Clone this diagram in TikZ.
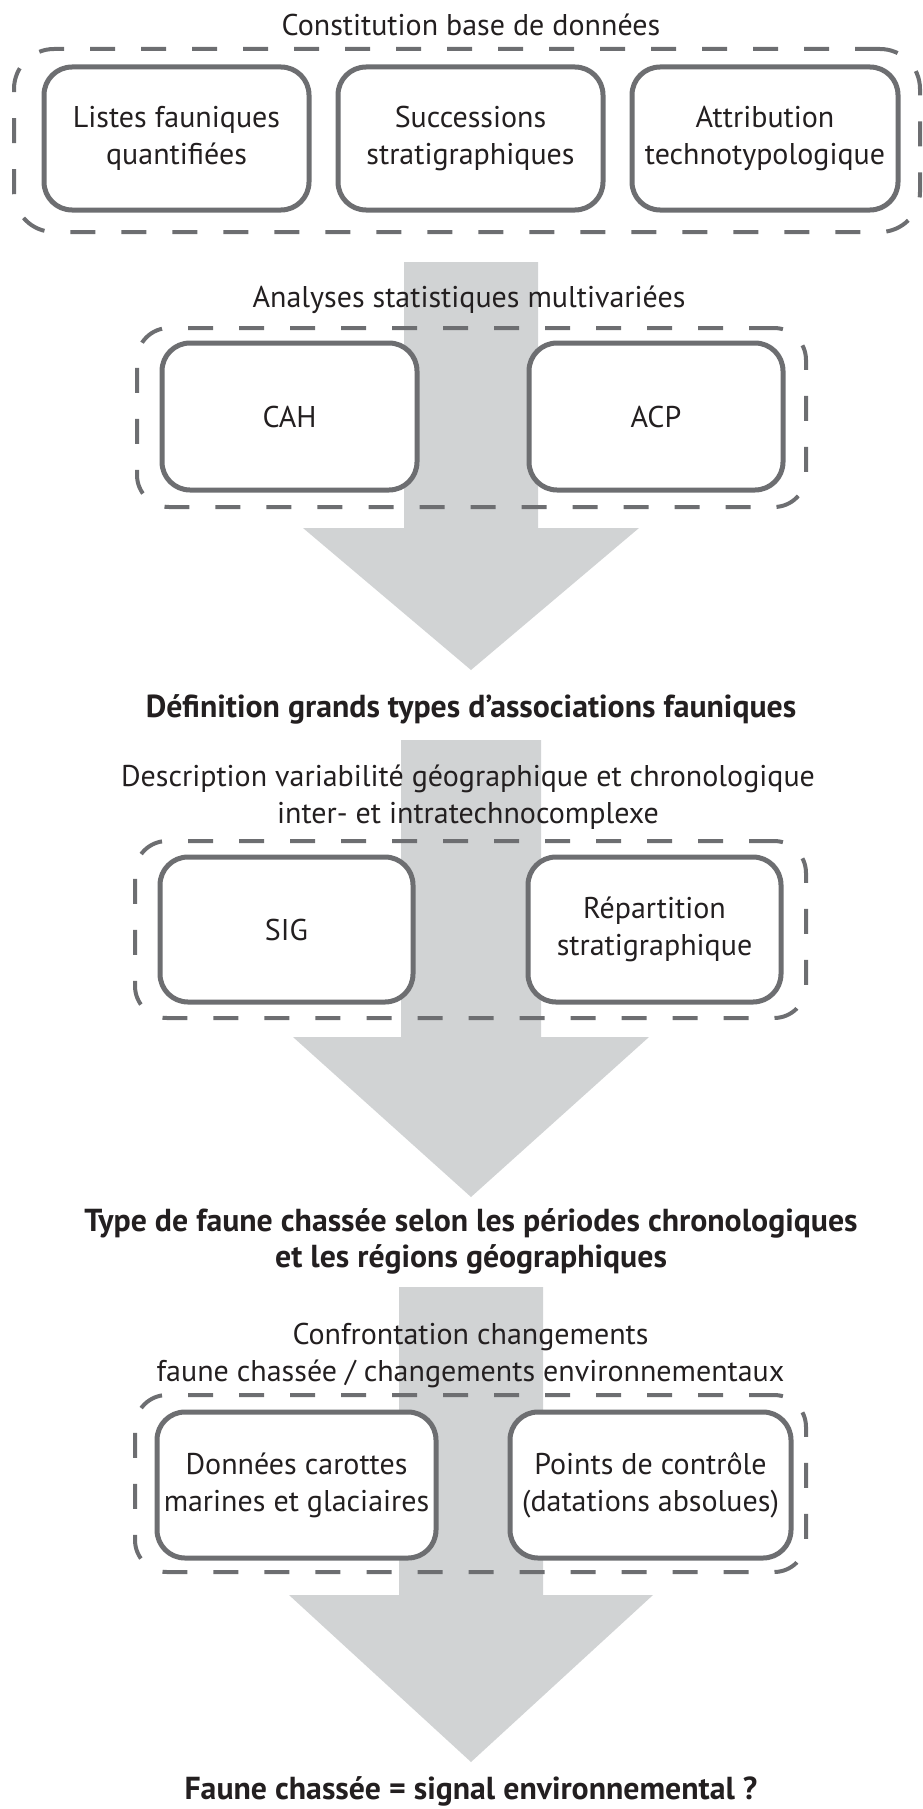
\documentclass[tikz,border=0pt]{standalone}
\usepackage{fontspec}
\setmainfont{PT Sans}
\usetikzlibrary{positioning}

\definecolor{framegray}{HTML}{6D6E71}
\definecolor{arrowgray}{HTML}{D1D3D4}
\definecolor{inkblack}{HTML}{231F20}

% big grey arrow: top, base of head, tip, half shaft, half head
\newcommand{\grayarrow}[5]{%
  \fill[arrowgray] (471-#4,#1) -- (471+#4,#1) -- (471+#4,#2) -- (471+#5,#2)
    -- (471,#3) -- (471-#5,#2) -- (471-#4,#2) -- cycle;}

\begin{document}
\begin{tikzpicture}[
    x=1pt, y=-1pt,
    font=\fontsize{30}{37}\selectfont,
    every node/.style={text=inkblack},
    box/.style={rectangle, draw=framegray, line width=5pt, fill=white, rounded corners=28pt, align=center, minimum width=254pt, minimum height=145pt, inner sep=0pt},
    group/.style={rectangle, draw=framegray, line width=4pt, dash pattern=on 25pt off 26pt, rounded corners=32pt, inner sep=0pt, minimum width=671pt, minimum height=177pt},
    stage/.style={align=center},
    result/.style={align=center, font=\fontsize{31.8}{36}\selectfont\bfseries}
]
\useasboundingbox (0,0) rectangle (922,1809);

% Arrows
\grayarrow{262}{528}{670}{67}{168}
\grayarrow{740}{1037}{1197}{70}{178}
\grayarrow{1287}{1595}{1762}{72}{182}

% Base de donnees
\node[stage] (base) at (471,25) {Constitution base de données};
\node[group, minimum width=906pt, minimum height=183pt, rounded corners=40pt] (grpbase) at (467,140.5) {};
\node[box, minimum width=265pt, minimum height=143pt] (listes) at (176.5,138.5) {Listes fauniques\\quantifiées};
\node[box, minimum width=265pt, minimum height=143pt] (succ) at (470.5,138.5) {Successions\\stratigraphiques};
\node[box, minimum width=266pt, minimum height=143pt] (attrib) at (765,138.5) {Attribution\\technotypologique};

% Analyses
\node[stage] (analyses) at (469,300) {Analyses statistiques multivariées};
\node[group, minimum width=669pt, minimum height=179pt] (grpstat) at (471.5,417.5) {};
\node[box, minimum width=255pt, minimum height=147pt] (cah) at (289.5,416.5) {CAH};
\node[box, minimum width=254pt, minimum height=147pt] (acp) at (656,416.5) {ACP};
\node[result] (types) at (471,709) {Définition grands types d’associations fauniques};

% Variabilite
\node[stage] (descr) at (468,797) {Description variabilité géographique et chronologique\\inter- et intratechnocomplexe};
\node[group] (grpvar) at (470.5,929.5) {};
\node[box, minimum width=253pt] (sig) at (286.5,929.5) {SIG};
\node[box, minimum width=253pt] (repart) at (654.5,929.5) {Répartition\\stratigraphique};
\node[result] (faune) at (471,1241) {Type de faune chassée selon les périodes chronologiques\\et les régions géographiques};

% Confrontation
\node[stage] (confr) at (470.5,1355) {Confrontation changements\\faune chassée / changements environnementaux};
\node[group] (grpenv) at (470.5,1483.5) {};
\node[box, minimum width=279pt, minimum height=146pt] (carottes) at (296.5,1485) {Données carottes\\marines et glaciaires};
\node[box, minimum width=281pt, minimum height=146pt] (controle) at (650.5,1485) {Points de contrôle\\(datations absolues)};
\node[result] (signal) at (471,1791) {Faune chassée = signal environnemental ?};
\end{tikzpicture}
\end{document}
